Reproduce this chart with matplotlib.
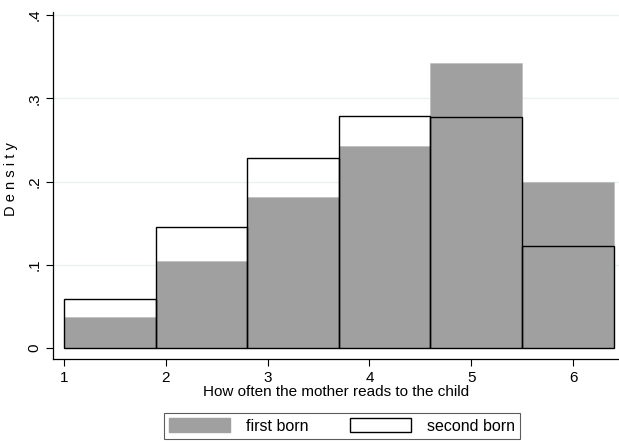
import numpy as np
import matplotlib
matplotlib.use("Agg")
import matplotlib.pyplot as plt
from matplotlib.patches import Patch

# histogram bins (Stata-style, width 0.9 starting at 1)
bin_edges = [1.0, 1.9, 2.8, 3.7, 4.6, 5.5, 6.4]
first_born = [0.037, 0.105, 0.181, 0.243, 0.342, 0.200]
second_born = [0.059, 0.145, 0.228, 0.279, 0.277, 0.122]
x_ticks = [1, 2, 3, 4, 5, 6]
y_ticks = [0, 0.1, 0.2, 0.3, 0.4]
y_ticklabels = ["0", ".1", ".2", ".3", ".4"]

plt.rcParams["font.family"] = ["Liberation Sans", "DejaVu Sans"]

W, H = 619, 442
fig = plt.figure(figsize=(W / 100, H / 100), dpi=100)
fig.patch.set_facecolor("white")
# axes box: left spine at x=53px, bottom spine at y=359px, top at y=12px, right edge 619
ax = fig.add_axes([53 / W, (H - 359) / H, (W - 53) / W, (359 - 12) / H])

px_x = 101.8   # pixels per x unit
px_y = 832.5   # pixels per y unit
ax.set_xlim(1 - 11 / px_x, 1 + (W - 64) / px_x)
ax.set_ylim(-11 / px_y, 0.4 + 3 / px_y)

edges = np.array(bin_edges)
widths = np.diff(edges)
for yv in y_ticks[1:]:
    ax.axhline(yv, color="#eaf2f3", lw=1.0, zorder=0)

ax.bar(edges[:-1], first_born, width=widths, align="edge", color="#a0a0a0",
       edgecolor="#b8b8b8", linewidth=0.4, zorder=2)
ax.bar(edges[:-1], second_born, width=widths, align="edge", facecolor="none",
       edgecolor="black", linewidth=1.0, zorder=3)

ax.set_xticks(x_ticks)
ax.set_yticks(y_ticks)
ax.set_yticklabels(y_ticklabels, rotation=90, va="center")
ax.tick_params(axis="both", labelsize=11, length=5, width=0.8, colors="black")
for sp in ("top", "right"):
    ax.spines[sp].set_visible(False)
for sp in ("left", "bottom"):
    ax.spines[sp].set_linewidth(0.9)

ax.set_xlabel("How often the mother reads to the child", fontsize=11, labelpad=0)
ax.set_ylabel("D e n s i t y", fontsize=10.5, labelpad=8)
ax.yaxis.set_label_coords(-0.062, 0.5 + (186 - 180) / 347)

handles = [Patch(facecolor="#a0a0a0", edgecolor="#a0a0a0", label="first born"),
           Patch(facecolor="white", edgecolor="black", linewidth=1.0, label="second born")]
leg = fig.legend(handles=handles, loc="center", bbox_to_anchor=(342 / W, 1 - 426 / H),
                 ncol=2, fontsize=11.5, frameon=True, fancybox=False, edgecolor="#333333",
                 handlelength=3.8, handleheight=0.9, columnspacing=2.6, borderpad=0.35,
                 handletextpad=1.0)
leg.get_frame().set_linewidth(0.8)

plt.savefig("out.png", dpi=100, facecolor="white")
plt.close()
